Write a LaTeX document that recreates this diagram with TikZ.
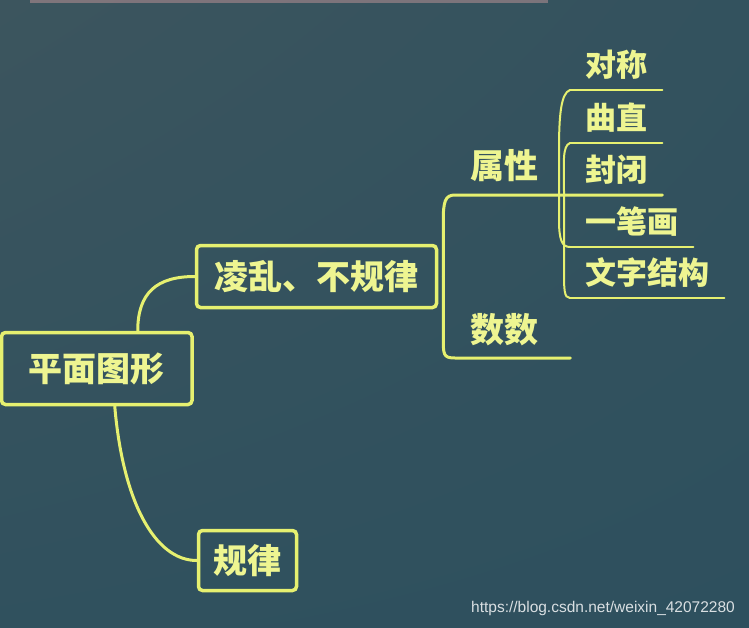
\documentclass[tikz,border=0pt]{standalone}
\usepackage{fontspec}
\setmainfont{Liberation Sans}
\newfontfamily\cjk{Noto Sans CJK SC}
\usetikzlibrary{positioning,shadings}

\definecolor{board}{RGB}{46,80,94}
\definecolor{boardhi}{RGB}{60,85,94}
\definecolor{chalk}{RGB}{230,240,112}
\definecolor{chalktext}{RGB}{238,245,145}

\begin{document}
\begin{tikzpicture}[
  x=1pt, y=-1pt,
  font=\cjk\bfseries\fontsize{34}{40}\selectfont,
  box/.style={draw=chalk, line width=3.5pt, rounded corners=4pt, text=chalktext, inner sep=0pt},
  branch/.style={text=chalktext, anchor=south west, inner xsep=15pt, inner ysep=0pt, text depth=16pt, align=left},
  leaf/.style={branch, text depth=13pt, font=\cjk\bfseries\fontsize{31}{36}\selectfont},
  link/.style={draw=chalk, line width=3pt, line cap=round},
  twig/.style={draw=chalk, line width=2pt, line cap=round},
  url/.style={font=\fontsize{15.5}{18}\selectfont, text=white!82!board}
]

% board
\shade[upper left=boardhi, lower left=board!85!boardhi, upper right=board!65!boardhi, lower right=board]
  (0,0) rectangle (749,627);
\useasboundingbox (0,0) rectangle (749,627);
\fill[red!30!white, opacity=0.35] (30,0) rectangle (548,3);

\node[box, minimum width=190.5pt, minimum height=72pt] (root) at (96.75,368.5) {平面图形};
\node[box, minimum width=240pt, minimum height=62pt, above right=21.5pt and 1pt of root] (mess) {凌乱、不规律};
\node[box, minimum width=98pt, minimum height=60pt, below right=122.5pt and 3pt of root] (rule) {规律};

\coordinate (fork) at ([xshift=5pt]mess.east);

\node[branch] (attr) at (455,195) {属性};
\node[branch, text width=85pt, text depth=15pt] (count) at (455,358) {数数};

\node[leaf] (sym) at (570,90) {对称};
\node[leaf] (curv) at (570,143) {曲直};
\node[leaf] (closed) at (570,195) {封闭};
\node[leaf] (stroke) at (570,247) {一笔画};
\node[leaf] (struct) at (570,298) {文字结构};

\draw[link] ([xshift=41pt]root.north) .. controls +(0,-38) and +(-38,0) .. (mess.west);
\draw[link] ([xshift=18pt]root.south) .. controls +(8,95) and +(-42,0) .. (rule.west);

\draw[twig] (sym.south west) -- (sym.south east);
\draw[twig] (curv.south west) -- (curv.south east);
\draw[twig] (closed.south west) -- (closed.south east);
\draw[twig] (stroke.south west) -- (stroke.south east);
\draw[twig] (struct.south west) -- (struct.south east);

\draw[link] (fork) -- ++(0,-55) .. controls +(0,-20) and +(-10,0) .. (attr.south west) -- (closed.south east);
\draw[link] (fork) -- ++(0,60) .. controls +(0,18) and +(-12,0) .. (count.south west) -- (count.south east);

\draw[twig] (sym.south west) .. controls +(-9,3) and +(0,-35) .. ++(-11,60) -- ++(0,70)
  .. controls +(0,20) and +(-8,0) .. (stroke.south west);
\draw[twig] (curv.south west) .. controls +(-8,3) and +(0,-30) .. ++(-6,50) -- ++(0,75)
  .. controls +(0,22) and +(-6,0) .. (struct.south west);

\node[url] (site) at (603,608) {https://blog.csdn.net/weixin\_42072280};

\end{tikzpicture}
\end{document}
